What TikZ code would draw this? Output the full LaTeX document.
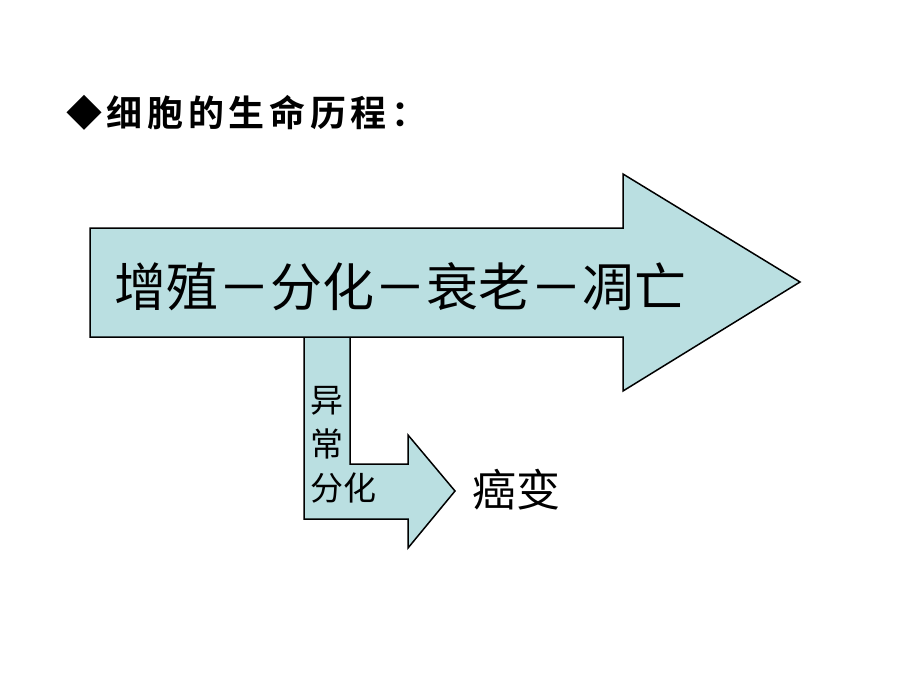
\documentclass[tikz,border=0pt]{standalone}
\usepackage{fontspec}
\setmainfont{Noto Sans CJK SC}
\newfontfamily\cjk{Noto Sans CJK SC}
\newfontfamily\cjkb[LetterSpace=13]{Noto Sans CJK SC Bold}
\begin{document}
\begin{tikzpicture}[x=1pt,y=-1pt,
  shapefill/.style={fill={rgb,255:red,186;green,223;blue,225}, draw=black, line width=1.5pt, line join=miter},
  lbl/.style={inner sep=0pt, font=\cjk}]
\useasboundingbox (0,0) rectangle (920,690);
% bent arrow (drawn first)
\draw[shapefill] (304,330) -- (350,330) -- (350,464) -- (408,464) -- (408,435) -- (455,491)
  -- (408,548) -- (408,519) -- (304,519) -- cycle;
% main arrow
\draw[shapefill] (90,228) -- (623,228) -- (623,174) -- (800,282) -- (623,391) -- (623,337) -- (90,337) -- cycle;
% title
\node[lbl, anchor=west, font=\cjkb\fontsize{36}{40}\selectfont] (title) at (66,113) {◆细胞的生命历程：};
% main text
\node[lbl, font=\cjk\fontsize{52}{60}\selectfont] (stages) at (400,287) {增殖－分化－衰老－凋亡};
% abnormal differentiation
\node[lbl, anchor=north west, align=left, font=\cjk\fontsize{33}{44}\selectfont] (abn) at (310,386) {异\\常\\分化};
% cancer
\node[lbl, font=\cjk\fontsize{44}{48}\selectfont] (cancer) at (516,490) {癌变};
\end{tikzpicture}
\end{document}
